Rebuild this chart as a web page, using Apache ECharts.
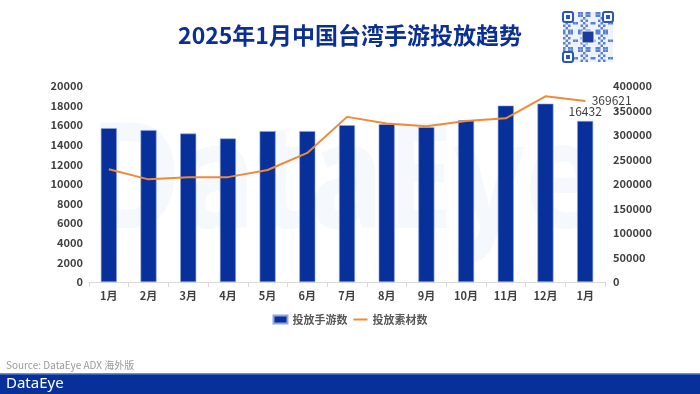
<!DOCTYPE html>
<html><head><meta charset="utf-8">
<script src="https://cdn.jsdelivr.net/npm/echarts@6/dist/echarts.min.js"></script>
<style>html,body{margin:0;padding:0;background:#fff}#c{width:700px;height:394px}</style>
</head><body><div id="c"></div>
<script>
const categories = ['1月','2月','3月','4月','5月','6月','7月','8月','9月','10月','11月','12月','1月'];
const games = [15700,15500,15150,14650,15400,15400,16000,16100,15800,16500,18000,18200,16432];
const creatives = [230000,209500,214000,214000,228500,263500,337000,323500,318000,328500,334000,379000,369621];
const leftTicks = {min:0,max:20000,interval:2000};
const rightTicks = {min:0,max:400000,interval:50000};
const F = '"Noto Sans CJK SC", "Noto Sans", sans-serif';
const plain = v => String(v);

const chart = echarts.init(document.getElementById('c'), null, {renderer:'canvas'});

// QR-like decoration (deterministic pattern)
const qr = [];
const qx = 563, qy = 12, qs = 50;
qr.push({type:'rect', shape:{x:qx,y:qy,width:qs,height:qs}, style:{fill:'#eef3fb'}});
const cells = 20, cw = qs/cells;
for (let i=0;i<cells;i++) for (let j=0;j<cells;j++){
  if (((i*i*3 + j*j*5 + i*j*7 + i + 2*j) % 7) < 3) qr.push({type:'rect', shape:{x:qx+i*cw,y:qy+j*cw,width:cw,height:cw}, style:{fill:'#5a80d2'}});
}
[[0,0],[cells-4,0],[0,cells-4]].forEach(([i,j])=>{
  qr.push({type:'rect', shape:{x:qx+i*cw,y:qy+j*cw,width:cw*4,height:cw*4,r:2}, style:{fill:'#fff',stroke:'#2a55b8',lineWidth:2}});
  qr.push({type:'rect', shape:{x:qx+(i+1.2)*cw,y:qy+(j+1.2)*cw,width:cw*1.6,height:cw*1.6}, style:{fill:'#2a55b8'}});
});
qr.push({type:'rect', shape:{x:qx+19,y:qy+19,width:12,height:12}, style:{fill:'#1a3c9c',stroke:'#fff',lineWidth:1}});

chart.setOption({
  backgroundColor:'#fff',
  animation:false,
  title:{text:'2025年1月中国台湾手游投放趋势', left:'center', top:19,
    textStyle:{fontFamily:F, fontSize:23, fontWeight:'bold', color:'#0b2f92'}},
  graphic:[
    {type:'text', x:90, y:112, scaleX:0.84, z:-10, silent:true,
      style:{text:'DataEye', font:'bold 148px "Noto Sans", sans-serif', fill:'#f5f8fd'}},
    ...qr,
    {type:'text', left:6, top:360, style:{text:'Source: DataEye ADX 海外版', font:'10px "Noto Sans CJK SC", sans-serif', fill:'#9a9a9a'}},
    {type:'rect', shape:{x:0,y:374,width:700,height:20}, style:{fill:'#07309a'}},
    {type:'rect', shape:{x:0,y:373,width:700,height:1.5}, style:{fill:'#6f8fd3'}},
    {type:'text', left:6, top:376, style:{text:'DataEye', font:'15px "Noto Sans", sans-serif', fill:'#fff'}}
  ],
  legend:{bottom:64, left:'center', itemWidth:14, itemHeight:8, itemGap:6,
    textStyle:{fontFamily:F, fontSize:11, color:'#595959', fontWeight:'bold'},
    data:[{name:'投放手游数', icon:'rect'}, {name:'投放素材数', icon:'path://M0,0 L14,0 L14,2 L0,2 Z'}]},
  grid:{left:89, right:95, top:86, bottom:112},
  xAxis:{type:'category', data:categories,
    axisLine:{lineStyle:{color:'#d9d9d9'}},
    axisTick:{show:true, alignWithLabel:false, length:5, lineStyle:{color:'#d9d9d9'}},
    axisLabel:{fontFamily:F, fontSize:11, fontWeight:'bold', color:'#404040', margin:8}},
  yAxis:[
    {type:'value', min:leftTicks.min, max:leftTicks.max, interval:leftTicks.interval,
      splitLine:{show:false}, axisLine:{show:false}, axisTick:{show:false},
      axisLabel:{fontFamily:F, fontSize:11, fontWeight:'bold', color:'#404040', margin:6, formatter:plain}},
    {type:'value', min:rightTicks.min, max:rightTicks.max, interval:rightTicks.interval,
      splitLine:{show:false}, axisLine:{show:false}, axisTick:{show:false},
      axisLabel:{fontFamily:F, fontSize:11, fontWeight:'bold', color:'#404040', margin:8, formatter:plain}}
  ],
  series:[
    {name:'投放手游数', type:'bar', data:games.map((v,i)=> i===games.length-1 ? {value:v, label:{show:true, position:'top', distance:4, fontFamily:F, fontSize:12, color:'#404040', formatter:p=>String(p.value)}} : v),
      barWidth:16, itemStyle:{color:'#07309a', borderColor:'#8fa6de', borderWidth:0.6}},
    {name:'投放素材数', type:'line', yAxisIndex:1,
      data:creatives.map((v,i)=> i===creatives.length-1 ? {value:v, symbol:'circle', symbolSize:1, label:{show:true, position:'right', distance:6, fontFamily:F, fontSize:12, color:'#404040', formatter:p=>String(p.value)}} : v),
      symbol:'none', showSymbol:true, lineStyle:{color:'#f08a37', width:2}, itemStyle:{color:'#f08a37'}}
  ]
});
</script></body></html>
